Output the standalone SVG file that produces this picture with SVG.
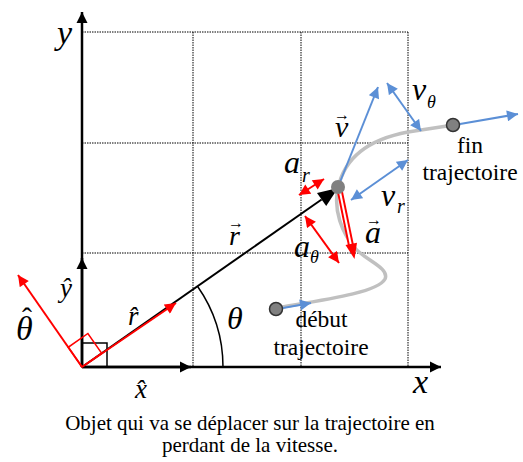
<svg xmlns="http://www.w3.org/2000/svg" width="523" height="462" viewBox="0 0 523 462">
<style>
.grid{stroke:#000;stroke-width:1;stroke-dasharray:1.5 1;fill:none}
.ax{stroke:#000;stroke-width:2.5;fill:none}
.red{stroke:#ff0000;stroke-width:2;fill:none}
.blue{stroke:#5b8fd6;stroke-width:2;fill:none}
.m{font-family:"Liberation Serif","Times New Roman",serif;font-style:italic;fill:#000}
.t{font-family:"Liberation Serif","Times New Roman",serif;fill:#000}
.acc{font-family:"Liberation Serif","Times New Roman",serif;fill:#000;text-anchor:middle}
.pt{fill:#808080;stroke:#333;stroke-width:1.5}
</style>
<defs>
<marker id="ab" viewBox="0 0 10 10" refX="10" refY="5" markerWidth="4.4" markerHeight="5" markerUnits="strokeWidth" orient="auto-start-reverse"><path d="M0,0L10,5L0,10z" fill="#000"/></marker>
<marker id="ar" viewBox="0 0 10 10" refX="10" refY="5" markerWidth="6" markerHeight="5.5" markerUnits="strokeWidth" orient="auto-start-reverse"><path d="M0,0L10,5L0,10z" fill="#ff0000"/></marker>
<marker id="abl" viewBox="0 0 10 10" refX="10" refY="5" markerWidth="6" markerHeight="5.5" markerUnits="strokeWidth" orient="auto-start-reverse"><path d="M0,0L10,5L0,10z" fill="#5b8fd6"/></marker>
</defs>
<g id="grid">
<path class="grid" d="M82,32H408M82,143H408M82,253H408M193,32V367M301,32V367M408,32V367"/>
</g>
<g id="axes">
<path class="ax" d="M82,367V12" marker-end="url(#ab)"/>
<path class="ax" d="M82,367H441" marker-end="url(#ab)"/>
<path class="ax" d="M82,367V258" marker-end="url(#ab)"/>
<path class="ax" d="M82,367H191" marker-end="url(#ab)"/>
<rect x="82" y="343" width="25" height="24" fill="none" stroke="#000" stroke-width="1.5"/>
<text class="m" x="57" y="44" font-size="34">y</text>
<text class="m" x="413" y="393" font-size="34">x</text>
<text class="m" x="60" y="297" font-size="27">ŷ</text>
<text class="m" x="135" y="398" font-size="27">x̂</text>
</g>
<g id="trajectory">
<path d="M282,307C330,299 378,292 385,279C390,268 365,260 355,248C342,233 333,210 338,188C344,160 365,140 408,132L447,126" fill="none" stroke="#c0c0c0" stroke-width="3.5"/>
</g>
<g id="connectors">
<path d="M82,367L321.6,199.5" stroke="#000" stroke-width="2"/>
<path d="M338,188L326.2,206.1L317,192.9z" fill="#000"/>
<path d="M223,367A141,141 0 0 0 197.5,286.2" fill="none" stroke="#000" stroke-width="1.5"/>
<path class="red" d="M82,367L176,303" marker-end="url(#ar)"/>
<path class="red" d="M82,367L18,275" marker-end="url(#ar)"/>
<path d="M82,367L101.7,353.2L87.9,333.5L68.2,347.3z" fill="none" stroke="#ff0000" stroke-width="1.5"/>
<path class="red" d="M299,195L324,179" marker-start="url(#ar)" marker-end="url(#ar)"/>
<path class="red" d="M305,216L339,263" marker-start="url(#ar)" marker-end="url(#ar)"/>
<path d="M340,192L351.5,248" stroke="#ff0000" stroke-width="6" fill="none"/>
<path d="M340,192L351.5,248" stroke="#fff" stroke-width="2" fill="none"/>
<path d="M354.5,259L345.5,245L357,242.7z" fill="#ff0000"/>
<path class="blue" d="M338,187L378,87" marker-end="url(#abl)"/>
<path class="blue" d="M387,83L421,131" marker-start="url(#abl)" marker-end="url(#abl)"/>
<path class="blue" d="M351,200L408,160" marker-start="url(#abl)" marker-end="url(#abl)"/>
<path class="blue" d="M283,308L311,303" marker-end="url(#abl)"/>
<path class="blue" d="M460,124L518,114" marker-end="url(#abl)"/>
</g>
<g id="points">
<circle class="pt" cx="276" cy="309" r="6.5"/>
<circle class="pt" cx="453" cy="125" r="6.5"/>
<circle cx="338" cy="187" r="7" fill="#808080"/>
</g>
<g id="labels">
<text class="m" x="16" y="340" font-size="34">θ</text>
<text class="acc" x="27" y="328" font-size="30">ˆ</text>
<text class="m" x="128" y="325" font-size="27">r̂</text>
<text class="m" x="229" y="245" font-size="28">r</text>
<text class="acc" x="236" y="228" font-size="16">→</text>
<text class="m" x="227" y="329" font-size="32">θ</text>
<text class="m" x="335" y="137" font-size="30">v</text>
<text class="acc" x="342" y="120" font-size="16">→</text>
<text class="m" x="412" y="100" font-size="32">v</text>
<text class="m" x="427" y="108" font-size="18">θ</text>
<text class="m" x="284" y="173" font-size="32">a</text>
<text class="m" x="302" y="182" font-size="20">r</text>
<text class="m" x="381" y="206" font-size="32">v</text>
<text class="m" x="397" y="213" font-size="20">r</text>
<text class="m" x="365" y="243" font-size="32">a</text>
<text class="acc" x="374" y="225" font-size="16">→</text>
<text class="m" x="294" y="257" font-size="32">a</text>
<text class="m" x="310" y="263" font-size="18">θ</text>
<text class="t" x="470" y="153" font-size="23.5" text-anchor="middle">fin</text>
<text class="t" x="470" y="180" font-size="23.5" text-anchor="middle">trajectoire</text>
<text class="t" x="321.5" y="327" font-size="23.5" text-anchor="middle">début</text>
<text class="t" x="321" y="355" font-size="23.5" text-anchor="middle">trajectoire</text>
<text class="t" x="250" y="430" font-size="21" text-anchor="middle">Objet qui va se déplacer sur la trajectoire en</text>
<text class="t" x="250" y="452" font-size="21" text-anchor="middle">perdant de la vitesse.</text>
</g>
</svg>
